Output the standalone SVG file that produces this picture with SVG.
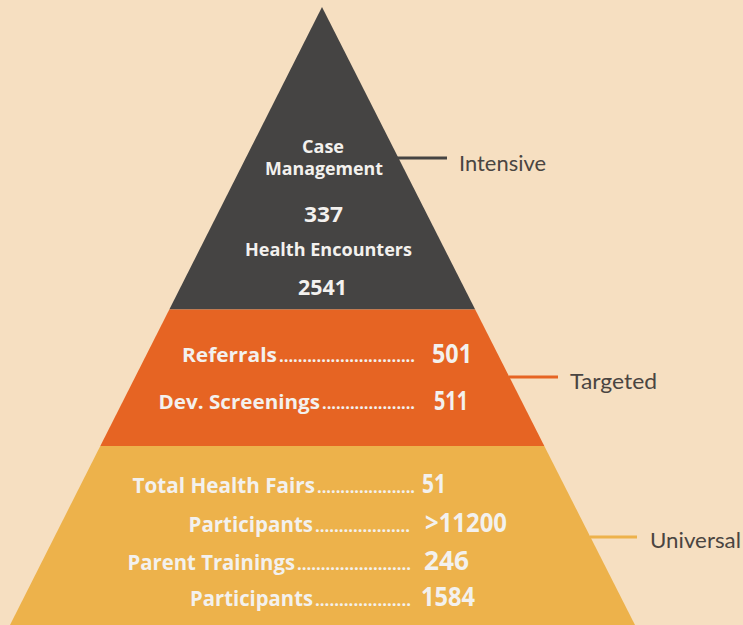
<svg xmlns="http://www.w3.org/2000/svg" width="743" height="625" viewBox="0 0 743 625">
<style>
.in{font-family:"Open Sans","Noto Sans","Liberation Sans",sans-serif;font-weight:700;fill:#f3f1ee}
.dots{font-family:"Open Sans","Noto Sans","Liberation Sans",sans-serif;font-weight:700;font-size:16px;fill:#f3f1ee}
.lbl{font-family:"Lato","Open Sans","Liberation Sans",sans-serif;font-size:22px;fill:#4a4541}
.c{text-anchor:middle}
</style>
<rect width="743" height="625" fill="#f6dfc1"/>
<g id="tier-intensive">
<polygon points="322,7 169.3,309.5 475.2,309.5" fill="#454443"/>
<text class="in c" x="323" y="153" font-size="18" textLength="42" lengthAdjust="spacingAndGlyphs">Case</text>
<text class="in c" x="324" y="175" font-size="18" textLength="118" lengthAdjust="spacingAndGlyphs">Management</text>
<text class="in c" x="323.5" y="222" font-size="22" textLength="39" lengthAdjust="spacingAndGlyphs">337</text>
<text class="in c" x="328.5" y="256" font-size="18" textLength="167" lengthAdjust="spacingAndGlyphs">Health Encounters</text>
<text class="in c" x="322.5" y="295" font-size="22" textLength="49" lengthAdjust="spacingAndGlyphs">2541</text>
</g>
<g id="tier-targeted">
<polygon points="169.3,309.5 475.2,309.5 544.3,446 100.3,446" fill="#e66423"/>
<text class="in" x="182" y="362" font-size="20" textLength="95" lengthAdjust="spacingAndGlyphs">Referrals</text>
<text class="dots" x="279" y="362" textLength="136" lengthAdjust="spacingAndGlyphs">.............................</text>
<text class="in" x="432" y="363" font-size="26" textLength="40" lengthAdjust="spacingAndGlyphs">501</text>
<text class="in" x="158.5" y="409" font-size="20" textLength="161.5" lengthAdjust="spacingAndGlyphs">Dev. Screenings</text>
<text class="dots" x="322" y="409" textLength="93" lengthAdjust="spacingAndGlyphs">....................</text>
<text class="in" x="434" y="410" font-size="26" textLength="34" lengthAdjust="spacingAndGlyphs">511</text>
</g>
<g id="tier-universal">
<polygon points="100.3,446 544.3,446 635,625 10,625" fill="#edb24b"/>
<text class="in" x="132.5" y="493" font-size="21" textLength="182.5" lengthAdjust="spacingAndGlyphs">Total Health Fairs</text>
<text class="dots" x="317" y="493" textLength="98" lengthAdjust="spacingAndGlyphs">.....................</text>
<text class="in" x="422" y="493" font-size="26" textLength="24" lengthAdjust="spacingAndGlyphs">51</text>
<text class="in" x="188.5" y="532" font-size="21" textLength="124.5" lengthAdjust="spacingAndGlyphs">Participants</text>
<text class="dots" x="315" y="532" textLength="95" lengthAdjust="spacingAndGlyphs">....................</text>
<text class="in" x="425" y="532" font-size="26" textLength="82" lengthAdjust="spacingAndGlyphs">&gt;11200</text>
<text class="in" x="127.5" y="570" font-size="21" textLength="167.5" lengthAdjust="spacingAndGlyphs">Parent Trainings</text>
<text class="dots" x="297" y="570" textLength="114" lengthAdjust="spacingAndGlyphs">........................</text>
<text class="in" x="424" y="570" font-size="26" textLength="45" lengthAdjust="spacingAndGlyphs">246</text>
<text class="in" x="190" y="606" font-size="21" textLength="123" lengthAdjust="spacingAndGlyphs">Participants</text>
<text class="dots" x="315" y="606" textLength="96" lengthAdjust="spacingAndGlyphs">....................</text>
<text class="in" x="421" y="606" font-size="26" textLength="54" lengthAdjust="spacingAndGlyphs">1584</text>
</g>
<g id="connectors" stroke-width="3" fill="none">
<line x1="397" y1="158" x2="447" y2="158" stroke="#454443"/>
<line x1="509" y1="377" x2="558" y2="377" stroke="#e66423"/>
<line x1="590" y1="537" x2="637" y2="537" stroke="#edb24b"/>
</g>
<g id="label-intensive"><text class="lbl" x="459" y="171" textLength="87" lengthAdjust="spacingAndGlyphs">Intensive</text></g>
<g id="label-targeted"><text class="lbl" x="570" y="389" textLength="87" lengthAdjust="spacingAndGlyphs">Targeted</text></g>
<g id="label-universal"><text class="lbl" x="650" y="548" textLength="91" lengthAdjust="spacingAndGlyphs">Universal</text></g>
</svg>
